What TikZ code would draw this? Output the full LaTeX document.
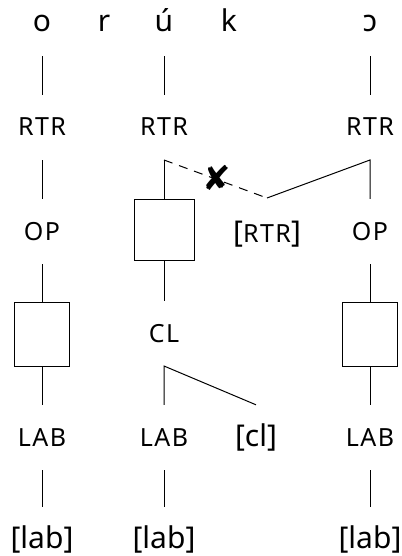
\documentclass[tikz,border=0pt]{standalone}
\usepackage{fontspec}
\setmainfont{Noto Sans}
\newfontfamily\capsfont[LetterSpace=6]{Noto Sans}
\newfontfamily\markfont{DejaVu Sans}
\newcommand{\feat}[1]{{\capsfont\fontsize{25}{26}\selectfont #1}}
\begin{document}
\begin{tikzpicture}[x=1pt,y=-1pt,
  every node/.style={font=\fontsize{30}{32}\selectfont},
  tier/.style={anchor=base,inner xsep=0pt,inner ysep=18pt,text height=23pt,text depth=6pt},
  slot/.style={draw,line width=1pt,minimum width=#1,inner sep=0pt},
  assoc/.style={line width=1pt},
  delinked/.style={assoc,dash pattern=on 9pt off 7pt}]
\useasboundingbox (0,0) rectangle (401,556);

% segment tier
\node[tier] (o) at (42,32) {o};
\node[tier] (r) at (104,32) {r};
\node[tier] (u) at (164,32) {ú};
\node[tier] (k) at (229,32) {k};
\node[tier] (c) at (370,32) {ɔ};

% RTR tier
\node[tier] (rtr1) at (42,136) {\feat{RTR}};
\node[tier] (rtr2) at (164,136) {\feat{RTR}};
\node[tier] (rtr3) at (370,136) {\feat{RTR}};
\coordinate (hook2) at (164,160);
\coordinate (hook3) at (370,160);

% OP tier
\node[tier] (op1) at (42,240) {\feat{OP}};
\node[slot=60pt,minimum height=61pt] (box2) at (164,229.5) {};
\node[anchor=base,inner sep=0pt] (frtr) at (267,242) {[\feat{RTR}]};
\coordinate (fhook) at (267,198);
\node[tier] (op3) at (370,240) {\feat{OP}};

% empty slots and CL
\node[slot=55pt,minimum height=64pt] (box1) at (42,334) {};
\node[tier] (cl) at (164,342) {\feat{CL}};
\coordinate (hookcl) at (164,366);
\node[slot=55pt,minimum height=64pt] (box3) at (370,334) {};

% LAB tier
\node[tier] (lab1) at (42,446) {\feat{LAB}};
\node[tier] (lab2) at (164,446) {\feat{LAB}};
\node[tier] (fcl) at (256,446) {[cl]};
\node[tier] (lab3) at (370,446) {\feat{LAB}};

% phonetic values
\node[tier] (p1) at (42,548) {[lab]};
\node[tier] (p2) at (164,548) {[lab]};
\node[tier] (p3) at (370,548) {[lab]};

% association lines
\draw[assoc] (o) -- (rtr1);
\draw[assoc] (u) -- (rtr2);
\draw[assoc] (c) -- (rtr3);

\draw[assoc] (rtr1) -- (op1);
\draw[assoc] (op1) -- (box1);
\draw[assoc] (box1) -- (lab1);
\draw[assoc] (lab1) -- (p1);

\draw[assoc] (box2.north) -- (hook2);
\draw[delinked] (hook2) -- (fhook);
\draw[assoc] (fhook) -- (hook3) -- (op3);
\node[font=\markfont\fontsize{34}{36}\selectfont,inner sep=0pt] (cut) at (217,178) {✘};
\draw[assoc] (box2) -- (cl);
\draw[assoc] (lab2) -- (hookcl) -- (fcl.north);
\draw[assoc] (lab2) -- (p2);

\draw[assoc] (op3) -- (box3);
\draw[assoc] (box3) -- (lab3);
\draw[assoc] (lab3) -- (p3);
\end{tikzpicture}
\end{document}
